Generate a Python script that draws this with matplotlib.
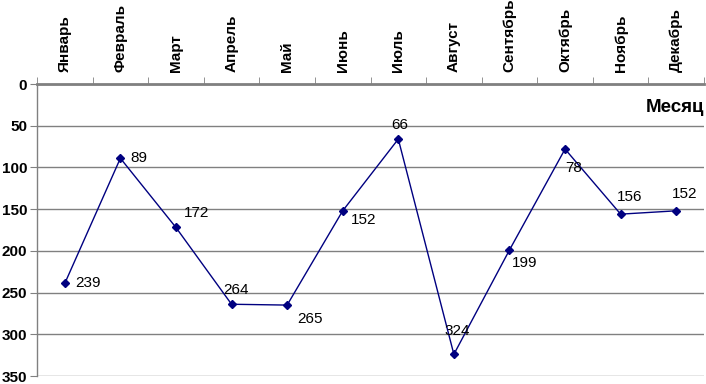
import matplotlib
matplotlib.use("Agg")
import matplotlib.pyplot as plt

plt.rcParams["font.family"] = ["Liberation Sans", "DejaVu Sans"]

MONTHS = ["Январь", "Февраль", "Март", "Апрель", "Май", "Июнь",
          "Июль", "Август", "Сентябрь", "Октябрь", "Ноябрь", "Декабрь"]
VALUES = [239, 89, 172, 264, 265, 152, 66, 324, 199, 78, 156, 152]

# label offsets in pixels (dx, dy), screen direction
LABEL_OFFSETS = [(10, 0), (10, 0), (8, 14), (-8, 14), (10, -14), (8, -9),
                 (-7, 14), (-9, 23), (2, -13), (0, -19), (-4, 17), (-4, 17)]

NAVY = "#000080"

fig = plt.figure(figsize=(7.06, 3.84), dpi=100)
ax = fig.add_axes([37 / 706, 8 / 384, 667 / 706, 292 / 384])

x = list(range(len(MONTHS)))
ax.plot(x, VALUES, color=NAVY, linewidth=1.0, marker="D", markersize=4.5,
        markerfacecolor=NAVY, markeredgecolor=NAVY, zorder=3)

for xi, v, (dx, dy) in zip(x, VALUES, LABEL_OFFSETS):
    ax.annotate(str(v), (xi, v), xytext=(dx, dy), textcoords="offset pixels",
                ha="left", va="center", fontsize=11, color="black", zorder=4)

ax.set_xlim(-0.5, len(MONTHS) - 0.5)
ax.set_ylim(350, 0)
ax.set_yticks(range(0, 351, 50))
ax.yaxis.grid(True, color="#808080", linewidth=1.0)
ax.set_axisbelow(True)

ax.xaxis.tick_top()
ax.set_xticks(x)
ax.set_xticklabels(MONTHS, rotation=90, fontsize=11, fontweight="bold")
ax.set_xticks([i - 0.5 for i in range(len(MONTHS) + 1)], minor=True)
ax.tick_params(axis="x", which="major", length=0, pad=8.5)
ax.tick_params(axis="x", which="minor", length=5, color="#808080", top=True)
ax.tick_params(axis="y", length=5, color="#808080", labelsize=11, pad=2)
for lab in ax.get_yticklabels():
    lab.set_fontweight("bold")

ax.spines["top"].set_color("#808080")
ax.spines["top"].set_linewidth(2.0)
ax.spines["left"].set_color("#808080")
ax.spines["left"].set_linewidth(1.0)
ax.spines["right"].set_visible(False)
ax.spines["bottom"].set_visible(False)

ax.text(1.0, 0.919, "Месяц", transform=ax.transAxes, ha="right", va="center",
        fontsize=13.5, fontweight="bold")

fig.savefig("out.png", dpi=100, facecolor="white")
